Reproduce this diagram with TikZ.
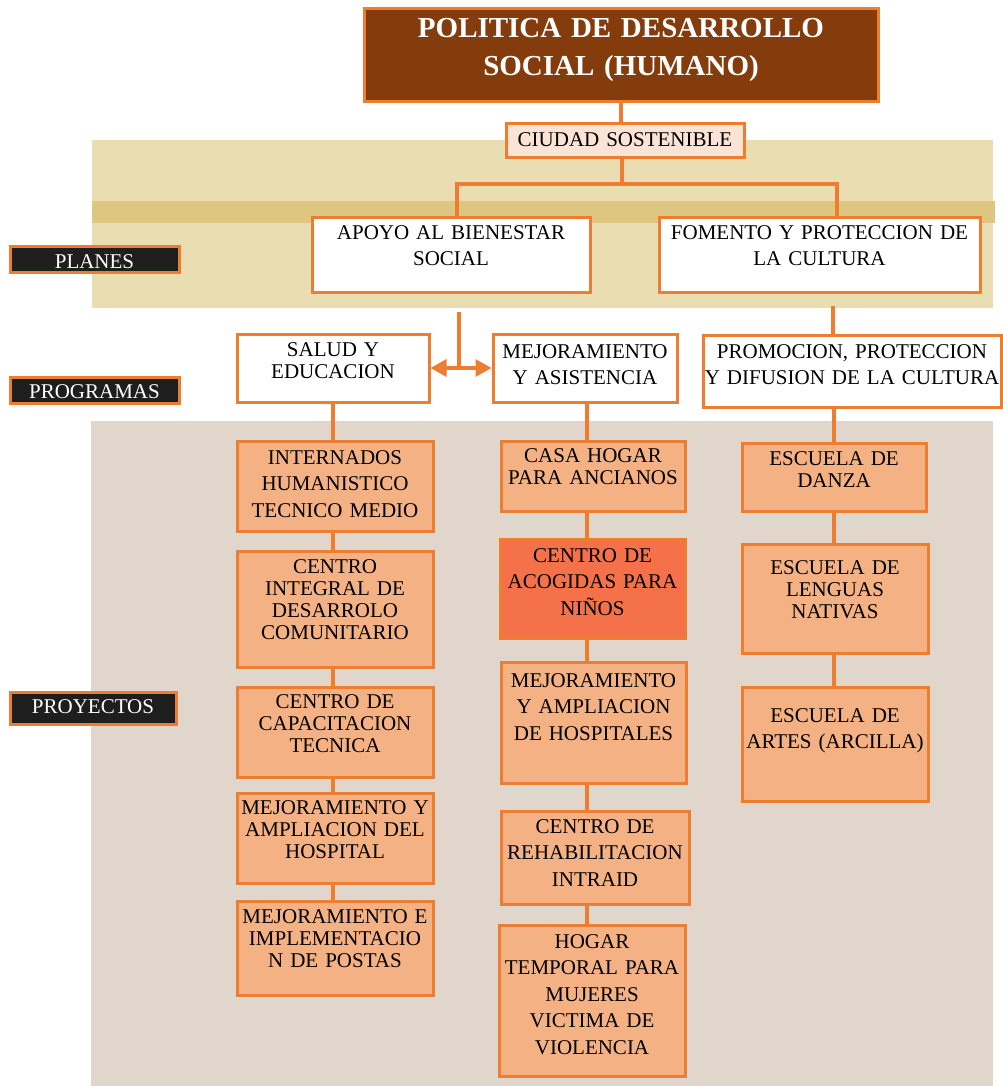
\documentclass[tikz,border=0pt]{standalone}
\usepackage{fontspec}
\setmainfont{Liberation Serif}
\usepackage{tikz}
\usetikzlibrary{arrows.meta,positioning}
\definecolor{orangeline}{HTML}{ED7D31}
\definecolor{titlefill}{HTML}{843C0C}
\definecolor{ciudadfill}{HTML}{FBE4D5}
\definecolor{planband}{HTML}{EBDDB2}
\definecolor{planstripe}{HTML}{DDC67F}
\definecolor{projband}{HTML}{E0D6CC}
\definecolor{projfill}{HTML}{F4B183}
\definecolor{hotfill}{HTML}{F4714A}
\definecolor{tagblack}{HTML}{1E1E1E}

\begin{document}
\begin{tikzpicture}[x=1pt,y=-1pt,
  box/.style={draw=orangeline,line width=3pt,inner sep=0pt,anchor=base,align=center,
    font=\fontsize{21}{26.5}\selectfont},
  tight/.style={font=\fontsize{21}{22}\selectfont},
  plan/.style={box,fill=white},
  proj/.style={box,fill=projfill},
  tag/.style={box,fill=tagblack,text=white},
  link/.style={draw=orangeline,line width=3.5pt}]
\useasboundingbox (0,0) rectangle (1003,1086);
% background bands
\fill[planband] (92,140) rectangle (993,308);
\fill[planstripe] (92,201) rectangle (995,223);
\fill[projband] (91,421) rectangle (993,1086);

% top
\node[box,fill=titlefill,text=white,font=\fontsize{29}{38}\selectfont\bfseries,
  text width=514pt,text height=29pt,text depth=64pt] (title) at (621,38) {POLITICA DE DESARROLLO\\SOCIAL (HUMANO)};
\node[box,fill=ciudadfill,text width=238pt,text height=23pt,text depth=11pt] (ciudad) at (625,147) {CIUDAD SOSTENIBLE};

% planes
\node[plan,text width=278pt,text height=22pt,text depth=53pt] (apoyo) at (451,239) {APOYO AL BIENESTAR\\SOCIAL};
\node[plan,text width=321pt,text height=22pt,text depth=53pt] (fomento) at (819.5,239) {FOMENTO Y PROTECCION DE\\LA CULTURA};

% tags
\node[tag,text width=169pt,text height=22pt,text depth=4pt] (planes) at (94.5,268) {PLANES};
\node[tag,text width=169pt,text height=21pt,text depth=5pt] (programas) at (94.5,398) {PROGRAMAS};
\node[tag,text width=166pt,text height=21pt,text depth=11pt] (proyectos) at (93,713) {PROYECTOS};

% programas
\node[plan,tight,text width=192pt,text height=22pt,text depth=46pt] (salud) at (333,356) {SALUD Y\\EDUCACION};
\node[plan,text width=184pt,text height=24pt,text depth=44pt] (mejasist) at (585,358) {MEJORAMIENTO\\Y ASISTENCIA};
\node[plan,text width=298pt,text height=23pt,text depth=49pt] (promo) at (852,358) {PROMOCION, PROTECCION\\Y DIFUSION DE LA CULTURA};

% proyectos, salud y educacion
\node[proj,text width=196pt,text height=23pt,text depth=67pt] (intern) at (335,464) {INTERNADOS\\HUMANISTICO\\TECNICO MEDIO};
\node[proj,tight,text width=196pt,text height=22pt,text depth=94pt] (cint) at (335,573) {CENTRO\\INTEGRAL DE\\DESARROLO\\COMUNITARIO};
\node[proj,tight,text width=196pt,text height=21pt,text depth=69pt] (capac) at (335,708) {CENTRO DE\\CAPACITACION\\TECNICA};
\node[proj,tight,text width=196pt,text height=21pt,text depth=69pt] (mejhosp) at (335,814) {MEJORAMIENTO Y\\AMPLIACION DEL\\HOSPITAL};
\node[proj,tight,text width=196pt,text height=22pt,text depth=72pt] (postas) at (335,923) {MEJORAMIENTO E\\IMPLEMENTACIO\\N DE POSTAS};

% proyectos, mejoramiento y asistencia
\node[proj,tight,text width=184pt,text height=21pt,text depth=49pt] (casa) at (593,462) {CASA HOGAR\\PARA ANCIANOS};
\node[proj,fill=hotfill,text width=185pt,text height=23pt,text depth=76pt] (acog) at (592.5,562) {CENTRO DE\\ACOGIDAS PARA\\NIÑOS};
\node[proj,text width=185pt,text height=25pt,text depth=96pt] (mejhospb) at (593.5,687) {MEJORAMIENTO\\Y AMPLIACION\\DE HOSPITALES};
\node[proj,text width=188pt,text height=22pt,text depth=71pt] (rehab) at (595,833) {CENTRO DE\\REHABILITACION\\INTRAID};
\node[proj,text width=186pt,text height=23pt,text depth=128pt] (hogar) at (592,948) {HOGAR\\TEMPORAL PARA\\MUJERES\\VICTIMA DE\\VIOLENCIA};

% proyectos, cultura
\node[proj,tight,text width=184pt,text height=22pt,text depth=46pt] (danza) at (834,465) {ESCUELA DE\\DANZA};
\node[proj,tight,text width=186pt,text height=30pt,text depth=79pt] (lenguas) at (835,574) {ESCUELA DE\\LENGUAS\\NATIVAS};
\node[proj,text width=186pt,text height=35pt,text depth=79pt] (artes) at (835,722) {ESCUELA DE\\ARTES (ARCILLA)};

% connectors
\coordinate (fork) at (622,184);
\coordinate (apoyoin) at (457,217);
\coordinate (fomentoin) at (837,217);
\coordinate (apoyoout) at (459,312);
\coordinate (fomentoout) at (833,306);
\coordinate (leftcol) at (333,0);
\coordinate (midcol) at (587,0);
\coordinate (rightcol) at (834,0);
\draw[link] (title.south) -- (title.south |- ciudad.north);
\draw[link] (fork |- ciudad.south) -- (fork);
\draw[link] (apoyoin) |- (fork) -| (fomentoin);
\draw[link] (apoyoout) -- (apoyoout |- salud.east);
\draw[link,{Triangle[length=16pt,width=17pt]}-{Triangle[length=16pt,width=17pt]}] (salud.east) -- (mejasist.west);
\draw[link] (fomentoout) -- (fomentoout |- promo.north);
\foreach \a/\b in {salud/intern,intern/cint,cint/capac,capac/mejhosp,mejhosp/postas}
  \draw[link] (\a.south -| leftcol) -- (\b.north -| leftcol);
\foreach \a/\b in {mejasist/casa,casa/acog,acog/mejhospb,mejhospb/rehab,rehab/hogar}
  \draw[link] (\a.south -| midcol) -- (\b.north -| midcol);
\foreach \a/\b in {promo/danza,danza/lenguas,lenguas/artes}
  \draw[link] (\a.south -| rightcol) -- (\b.north -| rightcol);
\end{tikzpicture}
\end{document}
